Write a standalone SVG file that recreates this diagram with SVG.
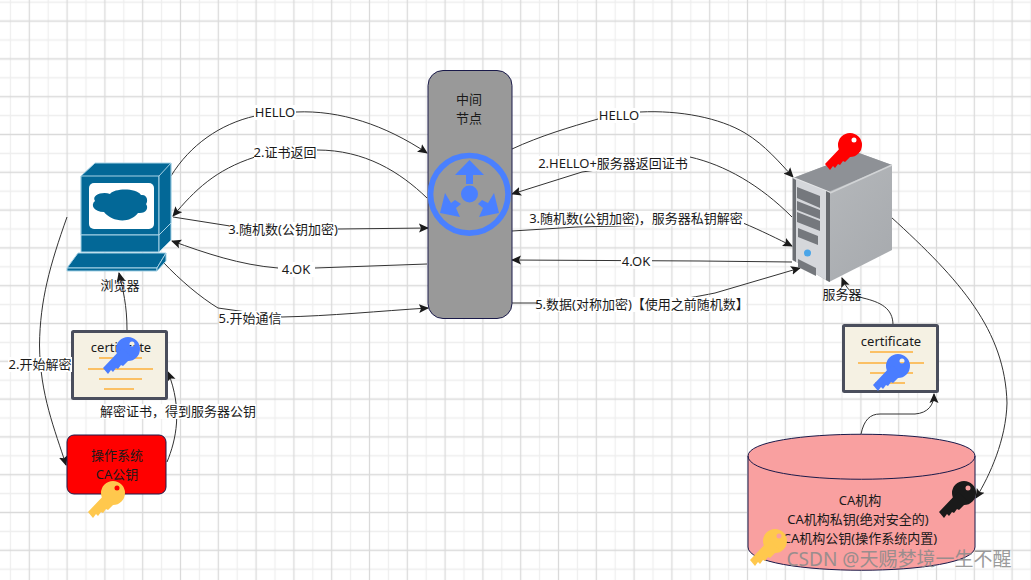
<svg xmlns="http://www.w3.org/2000/svg" width="1031" height="580" viewBox="0 0 1031 580">
<defs>
<pattern id="grid" width="37.8" height="37.8" patternUnits="userSpaceOnUse" patternTransform="translate(19.85 11.65)">
<path d="M28.35 0V37.800M0 28.35H37.800" stroke="#eeeeee" stroke-width="1.300" fill="none"/>
<path d="M9.45 0V37.800M0 9.45H37.800" stroke="#dadada" stroke-width="1.300" fill="none"/>
</pattern>
<linearGradient id="side" x1="0" y1="0" x2="1" y2="1"><stop offset="0" stop-color="#b9bcbf"/><stop offset="1" stop-color="#a6a9ad"/></linearGradient>
<marker id="arr" viewBox="0 0 10 10" refX="9" refY="5" markerWidth="10" markerHeight="10" markerUnits="userSpaceOnUse" orient="auto"><path d="M0 0.5L10 5L0 9.500L2 5Z" fill="#1a1a1a"/></marker>
<g id="key">
<path fill-rule="evenodd" d="M12 0A12 12 0 1 1 -12 0A12 12 0 1 1 12 0ZM6.5 -5A2.500 2.500 0 1 0 1.500 -5A2.500 2.500 0 1 0 6.500 -5Z"/>
<path d="M-6 -1L-25 19L-20 25L-17 21L-15 23L-12 19L-10 20L-7 16L-5 17L4 8Z"/>
</g>
<style>
text{font-family:"Noto Sans","Noto Sans CJK SC",sans-serif;font-size:13px;fill:#1a1a1a;text-anchor:middle}
.c{fill:none;stroke:#333;stroke-width:1}
.l{fill:#fff}
.o{fill:none;stroke:#fbc064;stroke-width:2}
.e{stroke:#a8d3e6;stroke-width:1;fill:#036897}
</style>
</defs>
<rect width="1031" height="580" fill="#fff"/>
<rect width="1031" height="580" fill="url(#grid)"/>
<g id="connectors">
<path class="c" marker-end="url(#arr)" d="M171 176C190 145 220 124 255 116L296 112C340 110 385 125 427 153"/>
<path class="c" marker-end="url(#arr)" d="M427 198C400 172 365 150 317 150L255 157C215 170 195 190 173 216"/>
<path class="c" marker-end="url(#arr)" d="M173 217L230 226L338 229L428 228"/>
<path class="c" marker-end="url(#arr)" d="M427 264L315 268L278 268C240 265 205 253 172 241"/>
<path class="c" marker-end="url(#arr)" d="M163 262C180 280 200 297 218 308L282 317C330 316 380 311 428 308"/>
<path class="c" marker-end="url(#arr)" d="M512 149C540 136 570 127 598 119L640 112C680 110 720 118 745 133C765 145 780 163 793 177"/>
<path class="c" marker-end="url(#arr)" d="M792 217C760 185 725 165 690 157L582 172L512 194"/>
<path class="c" marker-end="url(#arr)" d="M512 231L577 227L743 223C760 230 780 240 792 246"/>
<path class="c" marker-end="url(#arr)" d="M792 262L700 261L512 260"/>
<path class="c" marker-end="url(#arr)" d="M512 303L600 303C650 305 680 300 715 293L800 268"/>
<path class="c" marker-end="url(#arr)" d="M893 325C893 308 880 302 863 298C852 295 846 288 842 278"/>
<path class="c" marker-end="url(#arr)" d="M861 434C864 420 870 414 880 414H915C928 413 934 405 934 394"/>
<path class="c" marker-end="url(#arr)" d="M891 217C960 280 1005 330 1007 403C1006 440 990 475 976 498"/>
<path class="c" marker-end="url(#arr)" d="M67 217C50 265 40 300 39.500 345C40 395 55 430 66 465"/>
<path class="c" marker-end="url(#arr)" d="M127 330C127 305 123 290 119 273"/>
<path class="c" marker-end="url(#arr)" d="M167 462C176 440 183 410 168 372"/>
</g>
<g id="browser">
<path class="e" d="M81 176L95 163H171V223L159 235H81Z"/>
<path class="e" d="M81 176H159V235H81Z"/>
<path class="e" d="M159 176L171 163V223L159 235Z"/>
<path class="e" d="M81 235H159V252H81Z"/>
<path class="e" d="M159 235L171 223V240L159 252Z"/>
<rect x="89" y="183" width="65" height="46" rx="5" fill="#fff"/>
<path d="M104 212C94 212 90 205 95 201C91 195 103 191 110 194C115 188 136 188 141 195C148 194 148 202 146 204C149 208 146 214 138 213C130 224 112 222 104 212Z" fill="#036897"/>
<path class="e" d="M67 268L78 253H166L157 268Z"/>
<path class="e" d="M67 268H157V271H67Z"/>
<path class="e" d="M157 268L166 253V261L157 271Z"/>
<text x="120" y="290">浏览器</text>
</g>
<g id="cert-left">
<rect x="72.500" y="331.500" width="94" height="67" fill="#f5f1e3" stroke="#4a4e5c" stroke-width="3" rx="1"/>
<text x="121" y="352">certificate</text>
<path class="o" d="M99 358H142M88 369H153M99 379H142M104 389H134"/>
<use href="#key" transform="translate(128 349)" fill="#4a7dff"/>
</g>
<g id="os">
<rect x="67" y="435" width="99" height="59" rx="7" fill="#f00" stroke="#1a1a4a"/>
<text x="117" y="460">操作系统</text>
<text x="117" y="479">CA公钥</text>
<use href="#key" transform="translate(113 493)" fill="#ffc84d"/>
</g>
<g id="middle">
<rect x="428" y="70.500" width="84" height="248" rx="15" fill="#999" stroke="#1a1a4a"/>
<text x="469" y="104">中间</text>
<text x="469" y="123">节点</text>
<circle cx="469.300" cy="194.300" r="38.800" fill="none" stroke="#4a80ff" stroke-width="5.700"/>
<circle cx="469.500" cy="194" r="8.500" fill="#4a80ff"/>
<path d="M469.500 160L484 175H473V184H466V175H455Z" fill="#4a80ff"/>
<path d="M440 213L445 193L451 203L455 200L461 204L456 208L460 217Z" fill="#4a80ff"/>
<path d="M499 213L479 217L483 208L478 204L482 200L488 203L494 193Z" fill="#4a80ff"/>
</g>
<g id="server">
<path d="M793 178L859 153L892 165V250L829 282L793 260Z" fill="url(#side)"/>
<path d="M793 178L859 153L892 165L828 192Z" fill="#8e9196"/>
<path d="M793 178L828 192L830 193" stroke="#e5e6e8" stroke-width="2" fill="none"/>
<path d="M830 193L892 165" stroke="#d2d4d6" stroke-width="1.500" fill="none"/>
<path d="M793 178L826 191V280L793 260Z" fill="#d5d7db"/>
<path d="M826 191L830 193V282L826 280Z" fill="#65686d"/>
<path d="M792.500 178L796 180V262L792.500 260Z" fill="#6c6f74"/>
<path d="M797 187L820 196V208L797 198ZM797 201L820 210V219L797 210ZM797 212L820 221V231L797 222ZM798 228L818 236V245L798 237Z" fill="#75787d"/>
<circle cx="807.500" cy="253" r="3.500" fill="#4aa5e8"/>
<path d="M798 259L816 268V276L798 267Z" fill="#75787d"/>
<use href="#key" transform="translate(850 145)" fill="#f00"/>
<text x="842" y="299">服务器</text>
</g>
<g id="cert-right">
<rect x="843.500" y="325.500" width="94" height="66" fill="#f5f1e3" stroke="#4a4e5c" stroke-width="3" rx="1"/>
<text x="891" y="346">certificate</text>
<path class="o" d="M870 352H913M858 363H924M870 373H913M875 383H905"/>
<use href="#key" transform="translate(898 366)" fill="#4a7dff"/>
</g>
<g id="ca">
<path d="M748 456C748 427 975 427 975 456V547C975 578 748 578 748 547Z" fill="#f9a0a0" stroke="#1a1a4a"/>
<path d="M748 456C748 487 975 487 975 456" fill="none" stroke="#1a1a4a"/>
<text x="860" y="505">CA机构</text>
<text x="858" y="524">CA机构私钥(绝对安全的)</text>
<text x="860" y="543">CA机构公钥(操作系统内置)</text>
<use href="#key" transform="translate(964 493)" fill="#1a1a1a"/>
<use href="#key" transform="translate(775 541)" fill="#ffc84d"/>
</g>
<g id="labels">
<rect class="l" x="254" y="105" width="42" height="15"/><text x="275" y="117">HELLO</text>
<rect class="l" x="254" y="145" width="63" height="15"/><text x="285" y="157">2.证书返回</text>
<rect class="l" x="229" y="222" width="109" height="15"/><text x="283" y="234">3.随机数(公钥加密)</text>
<rect class="l" x="278" y="262" width="37" height="15"/><text x="296" y="274">4.OK</text>
<rect class="l" x="219" y="311" width="62" height="15"/><text x="250" y="323">5.开始通信</text>
<rect class="l" x="8" y="357" width="64" height="15"/><text x="40" y="369">2.开始解密</text>
<rect class="l" x="100" y="404" width="156" height="15"/><text x="178" y="416">解密证书，得到服务器公钥</text>
<rect class="l" x="598" y="108" width="42" height="15"/><text x="619" y="120">HELLO</text>
<rect class="l" x="536" y="156" width="154" height="15"/><text x="613" y="168">2.HELLO+服务器返回证书</text>
<rect class="l" x="530" y="211" width="214" height="15"/><text x="636" y="223">3.随机数(公钥加密)，服务器私钥解密</text>
<rect class="l" x="621" y="254" width="31" height="15"/><text x="636" y="266">4.OK</text>
<rect class="l" x="538" y="297" width="208" height="15"/><text x="642" y="309">5.数据(对称加密)【使用之前随机数】</text>
<text x="899" y="566" style="font-size:19px;fill:#8a8a8a;opacity:.85">CSDN @天赐梦境一生不醒</text>
</g>
</svg>
